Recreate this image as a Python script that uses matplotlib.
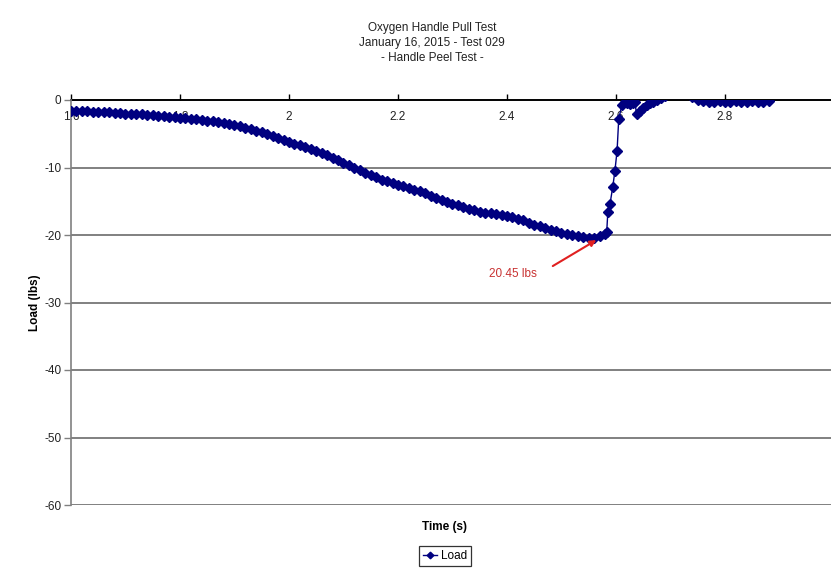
import matplotlib
matplotlib.use("Agg")
import matplotlib.pyplot as plt

plt.rcParams['font.family'] = ['Liberation Sans', 'DejaVu Sans']

# Sampled load trace (time in s, load in lbs)
time_s = [
    1.60, 1.61, 1.62, 1.63, 1.64, 1.65, 1.66, 1.67, 1.68, 1.69,
    1.70, 1.71, 1.72, 1.73, 1.74, 1.75, 1.76, 1.77, 1.78, 1.79,
    1.80, 1.81, 1.82, 1.83, 1.84, 1.85, 1.86, 1.87, 1.88, 1.89,
    1.90, 1.91, 1.92, 1.93, 1.94, 1.95, 1.96, 1.97, 1.98, 1.99,
    2.00, 2.01, 2.02, 2.03, 2.04, 2.05, 2.06, 2.07, 2.08, 2.09,
    2.10, 2.11, 2.12, 2.13, 2.14, 2.15, 2.16, 2.17, 2.18, 2.19,
    2.20, 2.21, 2.22, 2.23, 2.24, 2.25, 2.26, 2.27, 2.28, 2.29,
    2.30, 2.31, 2.32, 2.33, 2.34, 2.35, 2.36, 2.37, 2.38, 2.39,
    2.40, 2.41, 2.42, 2.43, 2.44, 2.45, 2.46, 2.47, 2.48, 2.49,
    2.50, 2.51, 2.52, 2.53, 2.54, 2.55, 2.56, 2.57, 2.58,
    2.583, 2.585, 2.589, 2.594, 2.598, 2.602, 2.605, 2.611, 2.616, 2.620,
    2.626, 2.631, 2.634, 2.638, 2.644, 2.650, 2.656, 2.662, 2.668, 2.675,
    2.682, 2.69, 2.72, 2.74, 2.75, 2.76, 2.77, 2.78, 2.79, 2.80,
    2.81, 2.82, 2.83, 2.84, 2.85, 2.86, 2.87, 2.88,
]
load_lbs = [
    -1.60, -1.65, -1.70, -1.70, -1.75, -1.80, -1.80, -1.85, -1.90, -1.95,
    -2.00, -2.00, -2.05, -2.10, -2.15, -2.20, -2.30, -2.35, -2.45, -2.50,
    -2.60, -2.65, -2.75, -2.85, -2.95, -3.05, -3.15, -3.30, -3.45, -3.60,
    -3.75, -3.90, -4.10, -4.30, -4.55, -4.80, -5.05, -5.35, -5.65, -5.90,
    -6.20, -6.45, -6.70, -6.95, -7.20, -7.50, -7.85, -8.20, -8.55, -8.95,
    -9.30, -9.70, -10.05, -10.40, -10.75, -11.10, -11.45, -11.80, -12.05, -12.30,
    -12.55, -12.80, -13.05, -13.30, -13.55, -13.85, -14.15, -14.45, -14.75, -15.05,
    -15.35, -15.60, -15.85, -16.10, -16.35, -16.55, -16.70, -16.80, -16.90, -17.00,
    -17.15, -17.35, -17.60, -17.85, -18.15, -18.45, -18.70, -18.95, -19.20, -19.45,
    -19.65, -19.85, -20.00, -20.15, -20.25, -20.40, -20.45, -20.20, -19.80,
    -19.50, -16.60, -15.40, -12.90, -10.50, -7.50, -2.80, -0.70, -0.30, -0.50,
    -0.60, -0.50, -0.30, -2.00, -1.70, -1.20, -0.80, -0.50, -0.30, 0.00,
    0.30, 0.60, 1.20, 0.40, -0.05, -0.20, -0.25, -0.25, -0.20, -0.25,
    -0.25, -0.20, -0.25, -0.25, -0.20, -0.25, -0.25, -0.20,
]

peak_time = 2.56
peak_load = -20.45

x_ticks = [1.6, 1.8, 2.0, 2.2, 2.4, 2.6, 2.8, 3.0]
x_tick_labels = ["1.6", "1.8", "2", "2.2", "2.4", "2.6", "2.8", "3"]
y_ticks = [0, -10, -20, -30, -40, -50, -60]
y_tick_labels = ["0", "-10", "-20", "-30", "-40", "-50", "-60"]

W, H = 831, 571
fig = plt.figure(figsize=(W / 100, H / 100), dpi=100)
fig.patch.set_facecolor("white")

left, right, top, bottom = 71, 834, 100, 505
ax = fig.add_axes([left / W, 1 - bottom / H, (right - left) / W, (bottom - top) / H])

ax.set_xlim(1.6, 3.0)
ax.set_ylim(-60, 0)

navy = "#000080"
ax.plot(time_s, load_lbs, color=navy, lw=1.0, marker="D", ms=4.8,
        mec=navy, mfc=navy, zorder=3, label="Load")

# Horizontal gridlines
for yv in y_ticks[1:]:
    ax.axhline(yv, color="#808080", lw=1.4, zorder=1)

# Axis styling: x axis crosses at y = 0 (top of plot)
ax.spines["top"].set_visible(False)
ax.spines["right"].set_visible(False)
ax.spines["bottom"].set_position(("data", 0))
ax.spines["bottom"].set_color("black")
ax.spines["bottom"].set_linewidth(1.4)
ax.spines["bottom"].set_zorder(2)
ax.spines["left"].set_color("#808080")
ax.spines["left"].set_linewidth(1.2)

ax.set_xticks(x_ticks)
ax.set_xticklabels(x_tick_labels)
ax.set_yticks(y_ticks)
ax.set_yticklabels(y_tick_labels)
ax.tick_params(axis="x", direction="in", length=4, width=1, color="black",
               pad=8, labelsize=8.5, labelcolor="#222222")
ax.tick_params(axis="y", direction="out", length=5, width=1, color="#808080",
               pad=2, labelsize=8.5, labelcolor="#222222")

ax.set_xlabel("Time (s)", fontsize=8.5, fontweight="bold", labelpad=0)
ax.xaxis.set_label_coords((445 - left) / (right - left), -(521 - bottom) / (bottom - top))
ax.set_ylabel("Load (lbs)", fontsize=8.5, fontweight="bold")
ax.yaxis.set_label_coords(-(71 - 41) / (right - left), 0.5)

# Peak annotation
ax.annotate("", xy=(peak_time + 0.004, peak_load - 0.3), xytext=(2.484, -24.6),
            arrowprops=dict(arrowstyle="-|>", color="#e02020", lw=1.5,
                            mutation_scale=9, shrinkA=0, shrinkB=0),
            zorder=4)
ax.text(2.411, -25.8, f"{abs(peak_load):.2f} lbs", color="#c83232",
        fontsize=8.5, ha="center", va="center")

# Title block
fig.text(432 / W, 1 - 43 / H,
         "Oxygen Handle Pull Test\nJanuary 16, 2015 - Test 029\n- Handle Peel Test -",
         ha="center", va="center", fontsize=8.5, linespacing=1.35, color="#222222")

# Legend below the plot
leg = fig.legend(loc="center", bbox_to_anchor=(445 / W, 1 - 556 / H),
                 fontsize=8.5, frameon=True, fancybox=False, handlelength=1.2,
                 handletextpad=0.3, borderpad=0.35, borderaxespad=0,
                 markerscale=0.7)
leg.get_frame().set_edgecolor("black")
leg.get_frame().set_linewidth(0.9)

fig.savefig("out.png", dpi=100, facecolor="white")
